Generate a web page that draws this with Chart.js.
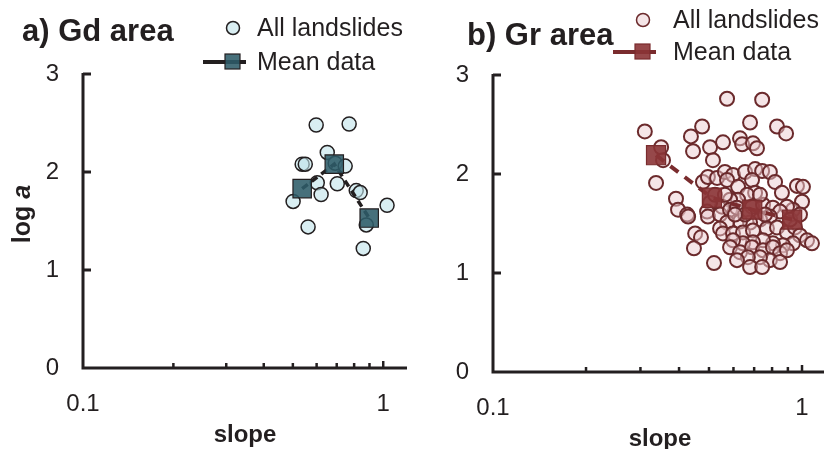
<!DOCTYPE html>
<html>
<head>
<meta charset="utf-8">
<script src="https://cdn.jsdelivr.net/npm/chart.js@4.4.0/dist/chart.umd.min.js"></script>
<style>
  html, body { margin: 0; padding: 0; background: #fff; }
  #wrap { position: relative; width: 824px; height: 449px; overflow: hidden; }
  .panel { position: absolute; top: 0; height: 449px; }
</style>
</head>
<body>
<div id="wrap">
  <div class="panel" style="left:0;width:410px"><canvas id="gd" width="410" height="449"></canvas></div>
  <div class="panel" style="left:410px;width:414px"><canvas id="gr" width="414" height="449"></canvas></div>
</div>
<script>
// a) Gd area
const gdSlope = [0.598, 0.770, 0.651, 0.537, 0.550, 0.692, 0.747, 0.603, 0.703, 0.621, 0.813, 0.838, 0.501, 1.03, 0.878, 0.562, 0.858];
const gdLogA  = [2.48, 2.49, 2.20, 2.08, 2.08, 2.09, 2.06, 1.89, 1.88, 1.77, 1.81, 1.79, 1.70, 1.66, 1.46, 1.44, 1.22];
const gdMeanSlope = [0.537, 0.687, 0.898];
const gdMeanLogA  = [1.83, 2.08, 1.53];

// b) Gr area
const grSlope = [0.572, 0.743, 0.679, 0.830, 0.888, 0.310, 0.475, 0.437, 0.350, 0.355,
  0.444, 0.504, 0.555, 0.515, 0.630, 0.640, 0.694, 0.715, 0.337, 0.391,
  0.397, 0.425, 0.428, 0.451, 0.471, 0.447, 0.519, 0.478, 0.496, 0.531,
  0.563, 0.598, 0.654, 0.705, 0.743, 0.787, 0.818, 0.861, 0.963, 1.007,
  1.0, 0.935, 0.894, 0.572, 0.621, 0.689, 0.705, 0.664, 0.621, 0.585,
  0.551, 0.504, 0.493, 0.496, 0.543, 0.585, 0.616, 0.689, 0.748, 0.805,
  0.849, 0.787, 0.731, 0.679, 0.630, 0.572, 0.543, 0.555, 0.598, 0.644,
  0.694, 0.770, 0.830, 0.894, 0.949, 0.985, 1.038, 1.077, 0.935, 0.868,
  0.805, 0.748, 0.694, 0.644, 0.598, 0.585, 0.630, 0.689, 0.748, 0.805,
  0.849, 0.787, 0.731, 0.668, 0.616, 0.679, 0.743, 0.849, 0.894,
  0.523, 0.654, 0.759, 0.607, 0.563, 0.731, 0.915, 0.985];
const grLogA = [2.76, 2.75, 2.52, 2.48, 2.41, 2.43, 2.48, 2.38, 2.27, 2.14,
  2.23, 2.27, 2.32, 2.14, 2.36, 2.30, 2.31, 2.26, 1.91, 1.75,
  1.64, 1.59, 1.57, 1.40, 1.36, 1.25, 1.10, 1.92, 1.97, 1.96,
  2.02, 1.99, 2.02, 2.05, 2.03, 2.02, 1.92, 1.81, 1.88, 1.87,
  1.72, 1.64, 1.67, 1.94, 1.87, 1.94, 1.81, 1.79, 1.74, 1.74,
  1.67, 1.71, 1.62, 1.57, 1.59, 1.64, 1.66, 1.67, 1.69, 1.66,
  1.62, 1.57, 1.54, 1.51, 1.52, 1.51, 1.45, 1.40, 1.40, 1.41,
  1.43, 1.45, 1.46, 1.41, 1.46, 1.38, 1.33, 1.30, 1.30, 1.28,
  1.30, 1.33, 1.31, 1.30, 1.33, 1.26, 1.21, 1.26, 1.23, 1.26,
  1.20, 1.13, 1.16, 1.16, 1.13, 1.06, 1.06, 1.11, 1.23,
  1.79, 1.59, 1.59, 1.59, 1.79, 1.79, 1.54, 1.59];
const grMeanSlope = [0.337, 0.511, 0.690, 0.929];
const grMeanLogA  = [2.19, 1.76, 1.64, 1.54];

const slopeLabels = [0.1, 1];
const slopeMinorTicks = [0.2, 0.3, 0.4, 0.5, 0.6, 0.7, 0.8, 0.9, 1];
const logATicks = [0, 1, 2, 3];

const FONT = "'Liberation Sans', Arial, sans-serif";
const AXIS = '#231f20';

function toPoints (xs, ys) {
  return xs.map((x, i) => ({ x: x, y: ys[i] }));
}

function line (ctx, x1, y1, x2, y2) {
  ctx.beginPath();
  ctx.moveTo(x1, y1);
  ctx.lineTo(x2, y2);
  ctx.stroke();
}

// axes, inward ticks, titles and the legend
function panelPlugin (p) {
  return {
    id: 'panel',
    afterDraw (chart) {
      const ctx = chart.ctx;
      const a = chart.chartArea;
      const xs = chart.scales.x;
      const ys = chart.scales.y;
      ctx.save();
      ctx.strokeStyle = AXIS;
      ctx.lineWidth = 3;
      ctx.beginPath();
      ctx.moveTo(a.left, a.top - 1);
      ctx.lineTo(a.left, a.bottom);
      ctx.lineTo(a.right, a.bottom);
      ctx.stroke();
      logATicks.forEach(v => {
        if (v === 0) return;
        const y = ys.getPixelForValue(v);
        line(ctx, a.left, y, a.left + 8, y);
      });
      ctx.lineWidth = 2.5;
      slopeMinorTicks.forEach(v => {
        const x = xs.getPixelForValue(v);
        line(ctx, x, a.bottom, x, a.bottom - (v === 1 ? 7 : 5));
      });

      // panel title
      ctx.fillStyle = '#231f20';
      ctx.textBaseline = 'alphabetic';
      ctx.textAlign = 'left';
      ctx.font = 'bold 31px ' + FONT;
      ctx.fillText(p.title, p.titleX, p.titleY);

      // x title
      ctx.font = 'bold 24px ' + FONT;
      ctx.textAlign = 'center';
      ctx.fillText('slope', p.slopeX, p.slopeY);

      // y title
      if (p.yTitle) {
        ctx.save();
        ctx.translate(30, 214);
        ctx.rotate(-Math.PI / 2);
        ctx.textAlign = 'left';
        ctx.font = 'bold 25px ' + FONT;
        const w1 = ctx.measureText('log ').width;
        ctx.font = 'italic bold 25px ' + FONT;
        const w2 = ctx.measureText('a').width;
        ctx.font = 'bold 25px ' + FONT;
        ctx.fillText('log ', -(w1 + w2) / 2, 0);
        ctx.font = 'italic bold 25px ' + FONT;
        ctx.fillText('a', -(w1 + w2) / 2 + w1, 0);
        ctx.restore();
      }

      // legend
      ctx.font = '25px ' + FONT;
      ctx.textAlign = 'left';
      ctx.textBaseline = 'middle';
      ctx.lineWidth = 1.5;
      ctx.fillStyle = p.dotFill;
      ctx.strokeStyle = p.dotEdge;
      ctx.beginPath();
      ctx.arc(p.legX, p.legY1, 6.5, 0, Math.PI * 2);
      ctx.fill();
      ctx.stroke();
      ctx.fillStyle = '#231f20';
      ctx.fillText('All landslides', p.legTextX, p.legY1 + 1);

      ctx.strokeStyle = p.lineColor;
      ctx.lineWidth = 4;
      line(ctx, p.legX - 30, p.legY2, p.legX + 13, p.legY2);
      ctx.fillStyle = p.sqFill;
      ctx.strokeStyle = p.sqEdge;
      ctx.lineWidth = 1.2;
      ctx.fillRect(p.legX - 8, p.legY2 - 8, 15, 15);
      ctx.strokeRect(p.legX - 8, p.legY2 - 8, 15, 15);
      ctx.fillStyle = '#231f20';
      ctx.fillText('Mean data', p.legTextX, p.legY2 + 1);
      ctx.restore();
    }
  };
}

function makePanel (id, p) {
  return new Chart(document.getElementById(id), {
    type: 'scatter',
    data: {
      datasets: [
        {
          label: 'Mean data',
          data: toPoints(p.meanX, p.meanY),
          order: 1,
          showLine: true,
          borderColor: p.lineColor,
          borderWidth: p.lineWidth,
          borderDash: p.dash,
          pointStyle: 'rect',
          pointRadius: p.sqR,
          pointBackgroundColor: p.sqFill,
          pointBorderColor: p.sqEdge,
          pointBorderWidth: 1.2
        },
        {
          label: 'All landslides',
          data: toPoints(p.x, p.y),
          order: 2,
          pointRadius: 7,
          pointBackgroundColor: p.dotFill,
          pointBorderColor: p.dotEdge,
          pointBorderWidth: p.dotW
        }
      ]
    },
    options: {
      responsive: false,
      animation: false,
      devicePixelRatio: 1,
      layout: { autoPadding: false, padding: { top: p.top, right: p.right, left: 0, bottom: 0 } },
      plugins: { legend: { display: false }, tooltip: { enabled: false } },
      scales: {
        x: {
          type: 'logarithmic',
          min: 0.1,
          max: p.xMax,
          grid: { display: false, drawTicks: false },
          border: { display: false },
          afterBuildTicks: s => { s.ticks = slopeLabels.map(v => ({ value: v })); },
          afterFit: s => { s.height = 449 - p.bottom; s.paddingLeft = 0; s.paddingRight = 0; },
          ticks: {
            padding: 22,
            color: '#231f20',
            font: { family: FONT, size: 24 },
            callback: v => String(v)
          }
        },
        y: {
          min: 0,
          max: 3,
          grid: { display: false, drawTicks: false },
          border: { display: false },
          afterBuildTicks: s => { s.ticks = logATicks.map(v => ({ value: v })); },
          afterFit: s => { s.width = 83; },
          ticks: {
            padding: 24,
            color: '#231f20',
            font: { family: FONT, size: 24 }
          }
        }
      }
    },
    plugins: [panelPlugin(p)]
  });
}

makePanel('gd', {
  x: gdSlope, y: gdLogA, meanX: gdMeanSlope, meanY: gdMeanLogA,
  top: 74, bottom: 368, right: 3, xMax: 1.2,
  dotFill: 'rgba(192,227,233,0.6)', dotEdge: '#231f20', dotW: 1.5,
  sqFill: 'rgba(45,92,105,0.88)', sqEdge: '#231f20', sqR: 13,
  lineColor: '#231f20', lineWidth: 3.5, dash: [7, 5],
  title: 'a) Gd area', titleX: 22, titleY: 41, yTitle: true,
  slopeX: 245, slopeY: 442,
  legX: 233, legY1: 28, legY2: 62, legTextX: 257
});

makePanel('gr', {
  x: grSlope, y: grLogA, meanX: grMeanSlope, meanY: grMeanLogA,
  top: 75, bottom: 372, right: 0, xMax: 1.178,
  dotFill: 'rgba(235,203,207,0.5)', dotEdge: '#6b2a2c', dotW: 2,
  sqFill: 'rgba(139,52,54,0.9)', sqEdge: '#7a2c2e', sqR: 13.5,
  lineColor: '#7a2c2e', lineWidth: 4, dash: [10, 8],
  title: 'b) Gr area', titleX: 57, titleY: 45, yTitle: false,
  slopeX: 250, slopeY: 446,
  legX: 233, legY1: 20, legY2: 52, legTextX: 263
});
</script>
</body>
</html>
